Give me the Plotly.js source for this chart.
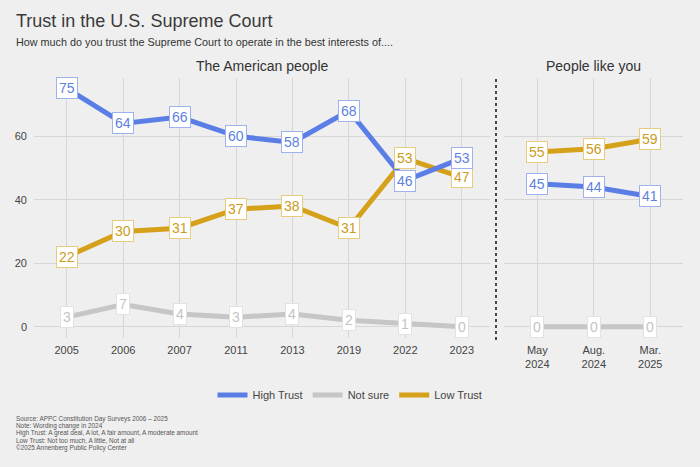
<!DOCTYPE html>
<html>
<head>
<meta charset="utf-8">
<script src="https://cdn.plot.ly/plotly-3.0.1.min.js"></script>
<style>
  html, body { margin: 0; padding: 0; background: #efefef; }
  #myDiv { width: 700px; height: 467px; }
</style>
</head>
<body>
<div id="myDiv"></div>
<script>
// survey years, "The American people" panel
var yearsUS = ['2005', '2006', '2007', '2011', '2013', '2019', '2022', '2023'];
var highUS = [75, 64, 66, 60, 58, 68, 46, 53];
var lowUS = [22, 30, 31, 37, 38, 31, 53, 47];
var unsureUS = [3, 7, 4, 3, 4, 2, 1, 0];

// "People like you" panel (wording change in 2024)
var wavesYou = ['May<br>2024', 'Aug.<br>2024', 'Mar.<br>2025'];
var highYou = [45, 44, 41];
var lowYou = [55, 56, 59];
var unsureYou = [0, 0, 0];

var yTicks = [0, 20, 40, 60];

var footLines = [
    'Source: APPC Constitution Day Surveys 2006 \u2013 2025',
    'Note: Wording change in 2024',
    'High Trust: A great deal, A lot, A fair amount, A moderate amount',
    'Low Trust: Not too much, A little, Not at all',
    '\u00a92025 Annenberg Public Policy Center'
];

var BLUE = '#5b7ee6', GOLD = '#d5a11b', GREY = '#c6c6c6';
var FONT = 'Liberation Sans, Arial, sans-serif';

var series = [
    {name: 'Not sure', us: unsureUS, you: unsureYou, color: GREY, text: '#c4c4c4', border: '#e2e2e2', rank: 2},
    {name: 'Low Trust', us: lowUS, you: lowYou, color: GOLD, text: '#c99c22', border: '#e6cc7c', rank: 3},
    {name: 'High Trust', us: highUS, you: highYou, color: BLUE, text: '#5e7fdf', border: '#9fb2ee', rank: 1}
];

var data = [];
var annotations = [];

series.forEach(function (s) {
    data.push({
        x: yearsUS, y: s.us, xaxis: 'x', yaxis: 'y',
        type: 'scatter', mode: 'lines', name: s.name,
        line: {color: s.color, width: 5},
        legendgroup: s.name, legendrank: s.rank, hoverinfo: 'skip'
    });
    data.push({
        x: wavesYou, y: s.you, xaxis: 'x2', yaxis: 'y2',
        type: 'scatter', mode: 'lines', name: s.name,
        line: {color: s.color, width: 5},
        legendgroup: s.name, showlegend: false, hoverinfo: 'skip'
    });
});

// value labels
series.forEach(function (s) {
    [[s.us, 'x', 'y'], [s.you, 'x2', 'y2']].forEach(function (p) {
        p[0].forEach(function (v, i) {
            annotations.push({
                x: i, y: v, xref: p[1], yref: p[2],
                text: String(v), showarrow: false,
                font: {family: FONT, size: 14, color: s.text},
                bgcolor: '#ffffff', bordercolor: s.border, borderwidth: 1, borderpad: 2
            });
        });
    });
});

// panel titles
annotations.push({
    text: 'The American people', xref: 'x domain', yref: 'paper', x: 0.5, y: 1 - 66 / 467,
    xanchor: 'center', yanchor: 'middle', showarrow: false,
    font: {family: FONT, size: 14, color: '#333'}
});
annotations.push({
    text: 'People like you', xref: 'x2 domain', yref: 'paper', x: 0.5, y: 1 - 66 / 467,
    xanchor: 'center', yanchor: 'middle', showarrow: false,
    font: {family: FONT, size: 14, color: '#333'}
});

// subtitle
annotations.push({
    text: 'How much do you trust the Supreme Court to operate in the best interests of....',
    xref: 'paper', yref: 'paper', x: 14 / 700, y: 1 - 42 / 467,
    xanchor: 'left', yanchor: 'middle', showarrow: false,
    font: {family: FONT, size: 10.8, color: '#333'}
});

// footnotes
footLines.forEach(function (t, i) {
    annotations.push({
        text: t, xref: 'paper', yref: 'paper', x: 14 / 700, y: 1 - (419 + i * 7.2) / 467,
        xanchor: 'left', yanchor: 'middle', showarrow: false,
        font: {family: FONT, size: 6.4, color: '#555'}
    });
});

var layout = {
    width: 700,
    height: 467,
    paper_bgcolor: '#efefef',
    plot_bgcolor: '#efefef',
    margin: {l: 0, r: 0, t: 0, b: 0},
    font: {family: FONT, color: '#444'},
    title: {
        text: 'Trust in the U.S. Supreme Court',
        xref: 'paper', x: 16 / 700, xanchor: 'left',
        yref: 'container', y: 1 - 21 / 467, yanchor: 'middle',
        font: {family: FONT, size: 18, color: '#3a3a3a'}
    },
    showlegend: true,
    legend: {
        orientation: 'h', x: 0.5, xanchor: 'center', y: 1 - 395 / 467, yanchor: 'middle',
        font: {size: 11, color: '#444'}, bgcolor: 'rgba(0,0,0,0)'
    },
    xaxis: {
        type: 'category', domain: [34 / 700, 490 / 700], range: [-0.58, 7.5],
        showgrid: true, gridcolor: '#d6d6d6', gridwidth: 1, zeroline: false, showline: false,
        ticks: '', tickfont: {size: 11, color: '#444'}, ticklabelstandoff: 4, fixedrange: true
    },
    xaxis2: {
        type: 'category', domain: [504 / 700, 683 / 700], range: [-0.59, 2.58], anchor: 'y2',
        showgrid: true, gridcolor: '#d6d6d6', gridwidth: 1, zeroline: false, showline: false,
        ticks: '', tickfont: {size: 11, color: '#444'}, ticklabelstandoff: 4, fixedrange: true
    },
    yaxis: {
        domain: [1 - 338 / 467, 1 - 78 / 467], range: [-3.56, 78.3],
        tickvals: yTicks, showgrid: true, gridcolor: '#d6d6d6', gridwidth: 1,
        zeroline: false, showline: false, ticks: '', ticklabelstandoff: 6,
        tickfont: {size: 11, color: '#444'}, fixedrange: true
    },
    yaxis2: {
        domain: [1 - 338 / 467, 1 - 78 / 467], range: [-3.56, 78.3], anchor: 'x2',
        tickvals: yTicks, showticklabels: false, showgrid: true, gridcolor: '#d6d6d6', gridwidth: 1,
        zeroline: false, showline: false, ticks: '', fixedrange: true
    },
    shapes: [{
        type: 'line', xref: 'paper', yref: 'paper',
        x0: 496 / 700, x1: 496 / 700, y0: 1 - 340 / 467, y1: 1 - 78 / 467,
        line: {color: '#111', width: 1.5, dash: 'dot'}
    }],
    annotations: annotations
};

Plotly.newPlot('myDiv', data, layout, {displayModeBar: false, staticPlot: true});
</script>
</body>
</html>
